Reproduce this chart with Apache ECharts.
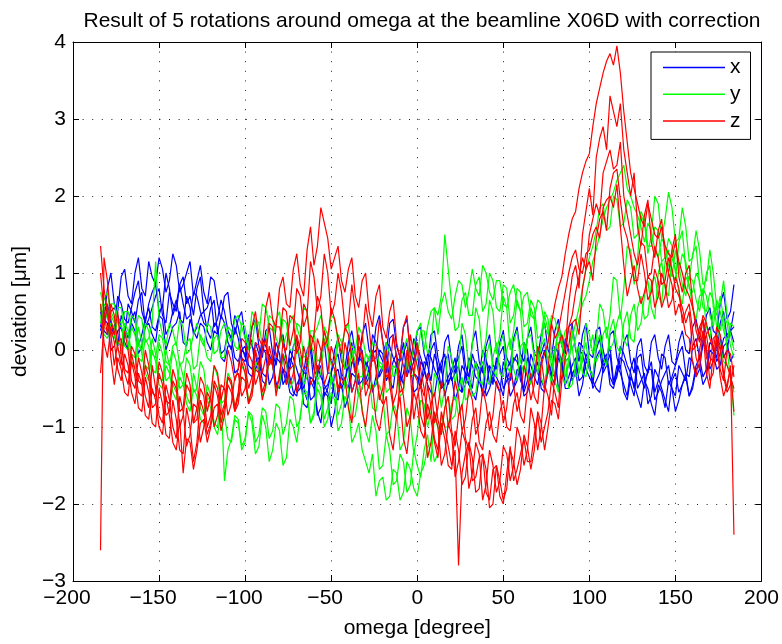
<!DOCTYPE html>
<html><head><meta charset="utf-8">
<script src="https://cdn.jsdelivr.net/npm/echarts@6/dist/echarts.min.js"></script>
<style>html,body{margin:0;padding:0;background:#fff}#c{width:782px;height:644px}</style>
</head><body><div id="c"></div>
<script>
// sample grid A (every 4 deg) and grid B (in between)
const omegaA = [-184,-180,-176,-172,-168,-164,-160,-156,-152,-148,-144,-140,-136,-132,-128,-124,-120,-116,-112,-108,-104,-100,-96,-92,-88,-84,-80,-76,-72,-68,-64,-60,-56,-52,-48,-44,-40,-36,-32,-28,-24,-20,-16,-12,-8,-4,0,4,8,12,16,20,24,28,32,36,40,44,48,52,56,60,64,68,72,76,80,84,88,92,96,100,104,108,112,116,120,124,128,132,136,140,144,148,152,156,160,164,168,172,176,180,184];
const omegaB = [-182,-178,-174,-170,-166,-162,-158,-154,-150,-146,-142,-138,-134,-130,-126,-122,-118,-114,-110,-106,-102,-98,-94,-90,-86,-82,-78,-74,-70,-66,-62,-58,-54,-50,-46,-42,-38,-34,-30,-26,-22,-18,-14,-10,-6,-2,2,6,10,14,18,22,26,30,34,38,42,46,50,54,58,62,66,70,74,78,82,86,90,94,98,102,106,110,114,118,122,126,130,134,138,142,146,150,154,158,162,166,170,174,178,182];

// x deviation, 5 rotations
const x1 = [0.55,0.8,0.6,0.95,0.7,1.0,0.8,1.15,0.85,1.05, 0.9,1.1,0.85,1.15,0.9,0.75,0.95,0.6,0.7,0.35, 0.4,0.15,0.3,0.05,0.25,-0.05,0.1,-0.15,0.05,-0.2, 0.0,-0.25,-0.05,-0.3,0.0,-0.15,0.1,-0.05,0.2,0.0, 0.3,0.1,0.35,0.05,0.3,0.0,0.25,-0.05,0.2,-0.1, 0.1,-0.15,0.05,-0.2,0.1,-0.15,0.05,-0.2,0.1,-0.1, 0.15,-0.05,0.15,-0.05,0.2,0.0,0.25,0.05,0.3,0.0, 0.2,-0.05,0.25,0.0,0.2,-0.1,0.1,-0.15,0.05,-0.2, 0.1,-0.1,0.05,-0.15,0.1,0.0,0.3,0.15,0.45,0.25, 0.6,0.4,0.85];
const x1b = [0.4,1.0,0.5,1.05,0.6,1.2,0.7,0.95,1.2,0.75, 1.25,0.75,1.0,0.7,1.1,0.6,0.9,0.4,0.75,0.2, 0.5,0.0,0.4,-0.1,0.3,-0.2,0.2,-0.25,0.15,-0.3, 0.1,-0.35,0.1,-0.3,0.15,-0.25,0.25,-0.15,0.35,-0.1, 0.45,-0.05,0.4,-0.1,0.4,-0.15,0.3,-0.2,0.25,-0.3, 0.2,-0.3,0.2,-0.35,0.25,-0.3,0.2,-0.25,0.25,-0.2, 0.3,-0.15,0.3,-0.1,0.35,-0.1,0.4,-0.05,0.35,-0.15, 0.35,-0.1,0.3,-0.2,0.25,-0.25,0.2,-0.3,0.15,-0.3, 0.2,-0.25,0.2,-0.2,0.25,-0.05,0.4,0.1,0.55,0.2, 0.75,0.5];
const x2 = [0.3,0.45,0.3,0.6,0.35,0.75,0.5,0.6,0.85,0.55, 0.8,0.6,0.95,0.7,0.8,0.5,0.7,0.4,0.5,0.15, 0.3,-0.1,0.1,-0.15,0.05,-0.2,-0.05,-0.35,-0.1,-0.4, -0.15,-0.45,-0.2,-0.5,-0.15,-0.35,-0.05,-0.3,0.0,-0.25, 0.1,-0.15,0.15,-0.1,0.1,-0.2,0.05,-0.25,0.0,-0.3, -0.05,-0.3,-0.1,-0.35,-0.05,-0.35,-0.1,-0.3,-0.05,-0.35, -0.1,-0.3,0.0,-0.25,-0.05,-0.2,0.05,-0.25,0.0,-0.2, 0.05,-0.25,0.0,-0.2,0.05,-0.3,-0.05,-0.3,-0.1,-0.4, -0.15,-0.4,-0.1,-0.35,-0.05,-0.3,0.05,-0.1,0.2,0.0, 0.35,0.15,0.5];
const x2b = [0.55,0.2,0.7,0.4,0.55,0.9,0.35,0.75,0.5,1.0, 0.45,0.85,0.6,0.45,0.95,0.55,0.3,0.65,0.25,0.45, 0.05,0.2,-0.25,0.15,-0.1,0.1,-0.45,0.0,-0.25,-0.55, 0.0,-0.3,-0.6,-0.3,-0.05,-0.45,0.1,-0.15,-0.4,0.2, -0.05,-0.3,0.2,-0.15,-0.35,0.15,-0.1,-0.4,0.1,-0.15, -0.45,-0.2,0.05,-0.45,-0.2,0.0,-0.45,-0.15,0.05,-0.4, -0.15,0.1,-0.4,-0.1,0.1,-0.35,-0.05,0.15,-0.35,0.1, -0.1,-0.35,0.15,-0.15,-0.4,0.05,-0.2,-0.5,-0.05,-0.3, -0.55,-0.05,-0.45,-0.2,0.05,-0.35,0.15,0.05,0.3,-0.1, 0.5,0.25];
const x3 = [0.5,0.2,0.55,0.3,0.6,0.35,0.75,0.4,0.7,0.45, 0.75,0.5,0.6,0.45,0.7,0.35,0.55,0.2,0.35,0.0, 0.15,-0.15,0.05,-0.3,-0.05,-0.35,-0.15,-0.45,-0.2,-0.5, -0.3,-0.6,-0.35,-0.55,-0.3,-0.5,-0.2,-0.4,-0.15,-0.35, 0.0,-0.25,0.05,-0.2,-0.05,-0.3,0.0,-0.3,-0.1,-0.35, -0.15,-0.4,-0.2,-0.45,-0.2,-0.4,-0.15,-0.45,-0.2,-0.4, -0.15,-0.4,-0.1,-0.35,-0.15,-0.3,-0.05,-0.35,-0.1,-0.3, -0.05,-0.35,-0.1,-0.3,-0.05,-0.35,-0.15,-0.45,-0.2,-0.5, -0.25,-0.55,-0.3,-0.5,-0.2,-0.4,-0.15,-0.25,0.0,-0.15, 0.15,0.0,0.3];
const x3b = [0.25,0.5,0.45,0.15,0.5,0.65,0.3,0.55,0.8,0.35, 0.6,0.85,0.4,0.75,0.5,0.3,0.65,0.45,0.1,0.3, -0.1,0.15,-0.05,0.05,-0.45,-0.1,-0.25,-0.1,-0.55,-0.3, -0.65,-0.2,-0.45,-0.7,-0.25,-0.4,-0.55,-0.1,-0.45,-0.05, -0.35,0.1,-0.1,-0.4,0.1,-0.15,-0.45,-0.05,-0.25,-0.5, -0.05,-0.3,-0.55,-0.1,-0.35,-0.55,-0.25,-0.1,-0.5,-0.25, -0.05,-0.5,-0.2,-0.45,0.0,-0.2,-0.5,-0.15,-0.4,0.0, -0.25,-0.45,0.0,-0.2,-0.45,-0.1,-0.3,-0.6,-0.35,-0.25, -0.65,-0.4,-0.2,-0.6,-0.3,-0.1,-0.35,0.1,-0.25,0.05, -0.1,0.25];
const x4 = [0.25,0.6,0.2,0.45,0.15,0.5,0.2,0.55,0.25,0.6, 0.3,0.65,0.35,0.55,0.3,0.5,0.15,0.3,0.0,0.15, -0.15,0.05,-0.25,-0.05,-0.35,-0.1,-0.4,-0.2,-0.55,-0.3, -0.65,-0.4,-0.75,-0.45,-0.6,-0.3,-0.5,-0.2,-0.4,-0.1, -0.35,-0.05,-0.3,-0.05,-0.3,-0.1,-0.35,-0.15,-0.4,-0.2, -0.45,-0.25,-0.5,-0.3,-0.5,-0.25,-0.5,-0.3,-0.45,-0.25, -0.5,-0.2,-0.4,-0.2,-0.4,-0.15,-0.35,-0.15,-0.35,-0.1, -0.35,-0.15,-0.4,-0.15,-0.35,-0.2,-0.45,-0.25,-0.5,-0.3, -0.6,-0.35,-0.65,-0.4,-0.55,-0.3,-0.45,-0.1,-0.25,0.05, -0.05,0.2,0.1];
const x4b = [0.45,0.35,0.05,0.3,0.4,0.05,0.4,0.3,0.45,0.2, 0.5,0.4,0.7,0.2,0.45,0.25,0.35,-0.05,0.25,-0.1, 0.0,-0.2,0.1,-0.3,-0.15,-0.45,-0.05,-0.35,-0.6,-0.5, -0.35,-0.85,-0.5,-0.3,-0.65,-0.4,-0.15,-0.45,-0.25,-0.55, 0.0,-0.4,-0.15,-0.45,-0.05,-0.3,-0.5,-0.2,-0.05,-0.5, -0.35,-0.1,-0.55,-0.35,-0.15,-0.6,-0.2,-0.35,-0.6,-0.15, -0.4,-0.55,-0.05,-0.3,-0.5,-0.3,0.0,-0.45,-0.2,-0.4, -0.05,-0.5,-0.3,-0.05,-0.45,-0.3,-0.6,-0.1,-0.4,-0.7, -0.25,-0.5,-0.8,-0.3,-0.45,-0.6,-0.2,-0.35,0.1,-0.15, 0.15,0.25];
const x5 = [0.15,0.35,0.05,0.3,0.0,0.25,0.05,0.35,0.1,0.4, 0.15,0.35,0.1,0.4,0.15,0.3,0.0,0.2,-0.15,0.05, -0.25,-0.05,-0.35,-0.1,-0.45,-0.2,-0.5,-0.3,-0.6,-0.35, -0.75,-0.5,-0.95,-0.6,-0.8,-0.45,-0.6,-0.35,-0.5,-0.25, -0.45,-0.2,-0.4,-0.15,-0.45,-0.2,-0.5,-0.25,-0.55,-0.3, -0.6,-0.35,-0.5,-0.3,-0.55,-0.35,-0.6,-0.35,-0.55,-0.3, -0.5,-0.3,-0.55,-0.3,-0.5,-0.25,-0.45,-0.2,-0.5,-0.25, -0.45,-0.2,-0.5,-0.25,-0.45,-0.3,-0.55,-0.35,-0.6,-0.4, -0.7,-0.45,-0.75,-0.5,-0.65,-0.35,-0.5,-0.2,-0.35,-0.05, -0.2,0.1,-0.05];
const x5b = [0.4,0.0,0.25,0.1,0.35,-0.05,0.3,0.2,0.45,0.0, 0.3,0.5,0.05,0.25,0.35,0.1,0.25,-0.1,0.05,-0.3, 0.0,-0.3,-0.15,-0.4,-0.05,-0.45,-0.25,-0.55,-0.45,-0.7, -0.4,-0.8,-0.55,-1.0,-0.5,-0.75,-0.3,-0.6,-0.15,-0.5, -0.3,-0.05,-0.5,-0.3,-0.1,-0.55,-0.15,-0.45,-0.6,-0.2, -0.4,-0.65,-0.2,-0.45,-0.65,-0.2,-0.5,-0.45,-0.15,-0.6, -0.25,-0.6,-0.4,-0.15,-0.55,-0.35,-0.1,-0.5,-0.3,-0.6, -0.15,-0.4,-0.55,-0.1,-0.5,-0.2,-0.65,-0.45,-0.75,-0.5, -0.85,-0.55,-0.4,-0.8,-0.45,-0.6,-0.25,-0.45,0.0,-0.25, 0.05,-0.15];

// y deviation
const y1 = [0.75,0.4,0.6,0.3,0.5,0.2,0.4,0.15,1.15,0.2, 0.35,0.05,0.3,0.0,0.35,0.05,0.3,0.0,0.35,0.1, 0.45,0.15,0.5,0.2,0.55,0.25,0.5,0.2,0.45,0.15, 0.5,0.2,0.45,0.1,0.4,0.05,0.35,0.0,0.2,-0.15, 0.05,-0.25,-0.05,-0.3,0.0,-0.2,0.25,0.0,0.5,0.2, 0.75,0.4,0.9,0.55,1.05,0.7,1.0,0.65,0.9,0.55, 0.85,0.5,0.75,0.4,0.6,0.2,0.4,0.05,0.3,0.15, 0.6,0.9,1.3,1.7,1.95,2.2,2.4,2.0,1.75,1.4, 1.55,1.2,1.35,0.95,1.1,0.7,0.9,0.5,0.7,0.3, 0.5,0.1,0.3];
const y1b = [0.55,0.6,0.35,0.5,0.3,0.45,0.1,0.35,0.4,0.05, 0.25,0.4,-0.05,0.2,0.15,0.35,-0.05,0.25,0.2,0.4, 0.3,0.05,0.4,0.6,0.3,0.4,0.05,0.35,0.3,0.55, 0.1,0.3,0.25,0.45,0.1,0.25,-0.1,0.3,-0.05,0.1, -0.2,0.1,-0.35,-0.1,0.15,0.05,0.35,0.3,0.55,0.6, 0.5,0.7,0.85,0.75,0.8,1.1,0.75,0.9,0.6,0.75, 0.6,0.7,0.45,0.65,0.3,0.45,0.2,0.25,0.0,0.4, 0.7,1.15,1.5,1.85,2.05,2.3,2.1,1.85,1.6,1.65, 1.3,1.45,1.1,1.3,0.85,0.95,0.65,0.8,0.45,0.65, 0.25,0.35];
const y2 = [0.5,0.75,0.35,0.55,0.2,0.4,0.0,0.25,-0.1,0.15, -0.2,0.1,-0.15,0.15,-0.2,0.1,-0.15,0.2,-0.1,0.25, 0.0,0.3,0.05,0.35,0.1,0.4,0.05,0.35,0.0,0.3, -0.05,0.25,-0.1,0.2,-0.15,0.1,-0.2,0.0,-0.35,-0.1, -0.45,-0.2,-0.5,-0.25,-0.55,-0.3,-0.1,0.25,0.05,0.45, 1.5,0.6,0.3,0.75,0.45,0.95,0.6,0.9,0.5,0.8, 0.45,0.75,0.35,0.55,0.2,0.4,0.0,0.2,-0.1,0.35, 0.8,1.2,1.55,1.9,1.6,1.95,1.65,1.85,1.5,1.7, 1.35,1.55,1.2,1.35,1.0,1.15,0.75,0.9,0.5,0.65, 0.25,0.35,-0.1];
const y2b = [0.65,0.45,0.55,0.25,0.45,0.05,0.35,-0.05,0.2,-0.15, 0.05,-0.2,0.1,-0.25,0.2,-0.1,0.15,-0.1,0.3,0.05, 0.35,0.0,0.4,0.05,0.45,0.15,0.4,0.0,0.35,-0.1, 0.25,-0.15,0.3,-0.2,0.2,-0.25,0.05,-0.35,-0.05,-0.5, -0.15,-0.55,-0.2,-0.6,-0.1,-0.35,0.25,-0.05,0.55,0.7, 1.05,0.25,0.65,0.45,0.85,0.5,1.0,0.55,0.85,0.35, 0.8,0.3,0.65,0.15,0.5,0.0,0.3,-0.15,0.15,0.55, 1.05,1.35,1.85,1.55,2.0,1.6,1.95,1.45,1.8,1.35, 1.6,1.15,1.45,1.0,1.25,0.8,1.0,0.55,0.75,0.3, 0.45,0.05];
const y3 = [0.35,0.55,0.15,0.35,0.0,0.2,-0.15,0.05,-0.3,-0.05, -0.35,-0.15,-0.45,-0.2,-0.5,-0.25,-0.6,-0.35,-0.65,-0.4, -0.6,-0.3,-0.55,-0.25,-0.5,-0.2,-0.45,-0.15,-0.4,-0.1, -0.35,-0.05,-0.3,0.0,-0.3,-0.05,-0.35,-0.15,-0.5,-0.35, -0.8,-0.6,-1.05,-0.8,-1.2,-0.9,-1.1,-0.7,-0.8,-0.4, -0.5,-0.1,-0.2,0.2,0.05,0.4,0.15,0.5,0.2,0.55, 0.25,0.5,0.15,0.4,0.05,0.25,-0.1,0.1,-0.2,0.05, -0.15,0.2,0.1,0.5,0.45,0.9,0.8,1.3,1.2,1.65, 1.5,1.9,1.7,1.85,1.45,1.6,1.2,1.3,0.9,1.0, 0.6,0.45,0.0];
const y3b = [0.6,0.2,0.4,0.05,0.3,-0.1,0.15,-0.25,0.1,-0.4, 0.0,-0.5,-0.1,-0.55,-0.15,-0.65,-0.2,-0.7,-0.3,-0.75, -0.2,-0.65,-0.15,-0.6,-0.1,-0.55,-0.05,-0.5,0.05,-0.45, 0.1,-0.4,0.15,-0.45,0.1,-0.5,0.0,-0.6,-0.2,-0.75, -0.45,-1.1,-0.7,-1.3,-0.75,-1.35,-0.65,-1.0,-0.3,-0.75, 0.05,-0.45,0.35,-0.25,0.55,-0.1,0.65,-0.05,0.7,0.0, 0.65,-0.05,0.55,-0.15,0.45,-0.25,0.3,-0.35,0.25,-0.3, 0.35,-0.05,0.6,0.15,0.95,0.4,1.35,0.85,1.75,1.25, 2.0,1.45,2.05,1.4,1.85,1.15,1.55,0.85,1.3,0.55, 0.9,0.2];
const y4 = [0.6,0.25,0.4,0.05,0.25,-0.1,0.1,-0.25,-0.05,-0.4, -0.2,-0.55,-0.35,-0.7,-0.5,-0.85,-0.6,-1.0,-1.7,-1.15, -0.9,-1.2,-0.95,-1.25,-1.0,-1.3,-1.05,-1.4,-1.0,-0.85, -0.6,-0.8,-0.5,-0.75,-0.45,-0.7,-0.5,-0.85,-0.75,-1.2, -1.05,-1.5,-1.3,-1.7,-1.45,-1.75,-1.5,-1.3,-1.45,-1.0, -0.75,-0.9,-0.5,-0.65,-0.3,-0.4,-0.1,-0.25,0.05,-0.2, 0.1,-0.15,0.15,-0.1,0.05,-0.2,0.0,-0.3,-0.1,-0.35, -0.05,-0.25,0.05,-0.1,0.25,0.05,0.35,0.15,0.55,0.4, 0.85,0.7,1.15,1.0,1.4,1.05,1.25,0.85,1.0,0.55, 0.7,0.0,-0.55];
const y4b = [0.3,0.5,0.1,0.35,-0.05,0.3,-0.2,0.15,-0.35,0.0, -0.45,-0.15,-0.6,-0.3,-0.75,-0.45,-0.95,-0.55,-1.3,-0.85, -1.3,-0.8,-1.35,-0.85,-1.45,-0.95,-1.5,-0.9,-1.2,-0.55, -0.95,-0.4,-0.9,-0.35,-0.85,-0.4,-0.9,-0.55,-1.05,-0.85, -1.55,-1.1,-1.75,-1.35,-1.85,-1.3,-1.65,-1.1,-0.85,-1.1, -0.6,-0.85,-0.35,-0.6,-0.15,-0.45,0.1,-0.35,0.2,-0.3, 0.25,-0.3,0.2,-0.3,0.15,-0.45,0.1,-0.45,0.05,-0.3, 0.1,-0.35,0.2,-0.2,0.4,-0.05,0.5,0.1,0.7,0.45, 0.95,0.6,1.3,0.9,1.55,0.9,1.35,0.7,1.1,0.45, 0.4,-0.35];
const y5 = [0.45,0.15,0.3,-0.05,0.1,-0.25,-0.05,-0.4,-0.15,-0.5, -0.3,-0.65,-0.45,-0.8,-0.6,-0.95,-0.75,-1.1,-0.85,-1.2, -0.95,-1.15,-0.85,-1.1,-0.8,-1.05,-0.75,-0.95,-0.65,-0.9, -0.55,-0.85,-0.6,-0.9,-0.65,-0.95,-0.7,-1.1,-1.3,-1.6, -1.9,-1.65,-1.9,-1.6,-1.85,-1.55,-1.9,-1.5,-1.2,-1.35, -1.0,-0.7,-0.85,-0.45,-0.6,-0.25,-0.4,-0.1,-0.3,0.0, -0.25,0.05,-0.3,-0.05,-0.35,-0.1,-0.4,-0.15,-0.5,-0.2, -0.3,0.0,-0.15,0.2,0.0,0.35,0.15,0.45,0.25,0.7, 0.55,1.0,0.8,1.2,0.75,0.95,0.55,0.7,0.3,0.5, 0.05,-0.2,-0.85];
const y5b = [0.2,0.35,0.0,0.25,-0.15,0.15,-0.3,0.0,-0.45,-0.2, -0.55,-0.35,-0.7,-0.5,-0.9,-0.65,-1.0,-0.8,-1.15,-0.9, -1.25,-0.8,-1.2,-0.75,-1.15,-0.7,-1.1,-0.6,-1.0,-0.5, -0.95,-0.5,-1.0,-0.55,-1.05,-0.6,-1.2,-0.95,-1.45,-1.35, -1.7,-1.95,-1.55,-1.95,-1.45,-1.8,-1.6,-1.25,-1.45,-0.85, -1.0,-0.6,-0.75,-0.35,-0.55,-0.15,-0.45,0.1,-0.35,0.15, -0.4,0.1,-0.45,0.0,-0.5,-0.05,-0.55,-0.1,-0.45,0.05, -0.35,0.2,-0.05,0.3,0.1,0.5,0.05,0.6,0.35,0.9, 0.4,1.15,0.7,1.05,0.6,0.85,0.4,0.75,0.15,0.55, -0.15,-0.3];

// z deviation
const z1 = [-2.6,0.9,0.2,-0.1,-0.45,-0.25,-0.6,-0.35,-0.7,-0.45, -0.8,-0.5,-0.85,-0.55,-0.75,-0.45,-0.6,-0.3,-0.45,-0.15, -0.25,0.1,0.3,0.15,0.55,0.4,0.8,0.6,1.05,0.85, 1.3,1.1,1.85,1.45,1.2,0.9,1.05,0.7,0.9,0.5, 0.7,0.3,0.5,0.1,0.3,-0.1,0.1,-0.5,-0.7,-0.9, -0.75,-1.05,-0.85,-1.15,-0.9,-1.2,-0.95,-1.1,-0.8,-1.0, -0.7,-0.85,-0.5,-0.6,-0.2,0.1,0.6,0.95,1.5,1.8, 2.3,2.55,3.2,3.6,3.85,3.95,3.1,2.3,1.9,1.6, 1.7,1.45,1.35,1.2,1.15,0.8,0.55,0.2,0.35,0.0, 0.2,-0.2,-0.5];
const z1b = [1.2,0.4,0.5,-0.3,-0.05,-0.55,-0.2,-0.75,-0.3,-0.85, -0.4,-1.0,-0.45,-0.95,-0.35,-0.8,-0.2,-0.65,0.0,-0.4, 0.15,-0.1,0.5,0.05,0.75,0.3,0.95,0.55,1.25,0.7, 1.6,1.35,1.65,1.05,1.35,0.75,1.2,0.55,1.0,0.3, 0.85,0.15,0.65,-0.1,0.45,-0.3,-0.25,-0.9,-0.55,-1.1, -0.6,-1.25,-0.7,-1.3,-0.75,-1.3,-0.8,-1.2,-0.65,-1.05, -0.55,-0.95,-0.3,-0.7,-0.05,0.35,0.8,1.25,1.7,2.1, 2.45,2.9,3.4,3.75,3.7,3.6,2.7,2.1,1.7,1.9, 1.5,1.6,1.25,1.4,1.0,0.7,0.35,0.45,0.15,0.3, -0.05,-0.35];
const z2 = [1.35,0.5,-0.2,0.15,-0.3,-0.05,-0.45,-0.2,-0.6,-0.3, -0.7,-0.4,-0.75,-0.45,-0.9,-0.6,-0.85,-0.5,-0.7,-0.4, -0.55,-0.2,-0.35,0.05,-0.1,0.3,0.1,0.5,0.25,0.7, 0.45,0.95,0.7,1.0,0.6,0.75,0.35,0.5,0.1,0.3, -0.1,0.1,-0.3,-0.1,-0.5,-0.3,-0.6,-0.85,-1.2,-1.0, -1.35,-1.1,-1.45,-1.2,-1.6,-1.35,-1.75,-1.5,-1.7,-1.35, -1.5,-1.15,-1.3,-0.95,-1.0,-0.6,-0.3,0.2,0.6,1.1, 1.5,2.1,2.5,2.9,3.3,2.9,2.6,2.0,1.6,1.75, 1.4,1.55,1.2,1.3,0.95,1.0,0.6,0.1,0.2,-0.15, 0.05,-0.5,-2.4];
const z2b = [0.8,0.2,0.1,-0.25,0.05,-0.4,0.0,-0.55,-0.15,-0.65, -0.25,-0.8,-0.3,-0.95,-0.5,-1.0,-0.4,-0.85,-0.35,-0.75, -0.1,-0.5,0.1,-0.3,0.35,-0.1,0.55,0.05,0.8,0.3, 1.15,0.5,1.25,0.45,1.0,0.3,0.85,0.0,0.6,-0.15, 0.4,-0.35,0.2,-0.55,0.0,-0.9,-0.45,-1.4,-0.8,-1.5, -0.95,-1.65,-1.05,-1.8,-1.2,-1.95,-1.3,-1.85,-1.25,-1.7, -1.0,-1.5,-0.75,-1.3,-0.45,-0.85,0.05,0.0,0.95,0.8, 1.8,1.75,2.75,2.6,3.1,3.2,2.3,2.3,1.35,1.95, 1.2,1.7,1.0,1.5,0.75,1.1,0.25,0.4,-0.1,0.2, -0.3,-0.2];
const z3 = [1.0,0.2,0.45,-0.2,0.0,-0.5,-0.3,-0.75,-0.5,-0.95, -0.65,-1.15,-0.8,-1.1,-0.75,-1.0,-0.65,-0.85,-0.5,-0.7, -0.3,-0.5,-0.15,-0.3,0.15,-0.1,0.3,0.0,0.4,0.1, 0.5,0.2,0.55,0.15,0.4,-0.05,0.2,-0.3,-0.05,-0.5, -0.25,-0.7,-0.45,-0.9,-0.6,-0.85,-0.4,-1.0,-0.75,-1.3, -1.0,-1.5,-2.8,-1.35,-1.7,-1.4,-1.85,-1.55,-1.9,-1.6, -1.7,-1.35,-1.45,-1.1,-1.2,-0.8,-0.55,-0.1,0.3,0.75, 1.2,1.5,1.9,2.3,2.6,2.4,2.0,1.5,1.1,1.35, 1.0,1.2,0.9,1.05,0.7,0.35,0.0,0.3,-0.1,0.15, -0.25,0.0,-0.35];
const z3b = [0.5,0.6,0.05,0.25,-0.4,-0.1,-0.6,-0.2,-0.85,-0.45, -1.0,-0.6,-1.25,-0.7,-1.2,-0.55,-1.0,-0.45,-0.85,-0.35, -0.6,-0.05,-0.45,0.0,-0.2,0.3,0.05,0.45,-0.05,0.6, 0.0,0.7,0.05,0.55,0.15,0.3,-0.1,0.2,-0.4,0.0, -0.6,-0.15,-0.75,-0.4,-1.0,-0.3,-0.85,-0.45,-1.15,-0.8, -1.25,-1.3,-1.6,-1.2,-1.65,-1.35,-1.95,-1.5,-2.0,-1.25, -1.55,-1.15,-1.45,-0.85,-1.0,-0.4,-0.75,0.05,0.45,0.95, 1.05,1.7,1.75,2.45,2.35,2.7,1.75,1.25,1.4,0.95, 1.35,0.85,1.2,0.8,0.55,0.5,0.05,0.4,-0.2,0.2, -0.4,-0.05];
const z4 = [0.6,-0.1,0.1,-0.4,-0.2,-0.7,-0.45,-0.9,-0.65,-1.1, -0.85,-1.3,-1.6,-1.2,-1.3,-0.9,-1.0,-0.7,-0.85,-0.55, -0.7,-0.4,-0.6,-0.3,-0.45,-0.2,-0.35,-0.1,-0.3,0.0, -0.2,0.1,-0.1,0.05,-0.25,-0.45,-0.75,-0.55,-0.8,-0.6, -0.9,-0.75,-1.1,-0.85,-1.15,-0.9,-0.7,-1.15,-0.9,-1.4, -1.15,-1.55,-1.3,-1.65,-1.4,-1.8,-1.55,-2.0,-1.7,-1.8, -1.45,-1.55,-1.25,-1.3,-0.95,-1.0,-0.7,-0.4,0.05,0.4, 0.8,1.15,1.45,1.8,2.1,2.35,1.6,1.2,0.9,1.0, 0.75,0.9,0.7,0.85,0.6,0.2,-0.15,0.0,-0.3,-0.05, -0.35,-0.45,-0.8];
const z4b = [0.1,0.3,-0.25,-0.05,-0.55,-0.3,-0.85,-0.5,-1.0,-0.6, -1.2,-0.9,-1.15,-1.55,-0.95,-1.2,-0.75,-1.05,-0.45,-0.8, -0.35,-0.7,-0.25,-0.65,-0.1,-0.5,0.1,-0.45,0.2,-0.25, 0.2,-0.3,0.25,-0.15,-0.55,-0.35,-0.95,-0.3,-1.0,-0.45, -1.05,-0.6,-1.3,-0.6,-1.35,-0.55,-1.05,-0.7,-1.2,-0.95, -1.5,-1.05,-1.75,-1.2,-1.85,-1.35,-2.05,-1.5,-1.95,-1.3, -1.75,-1.1,-1.55,-0.8,-1.3,-0.65,-0.9,-0.1,0.35,0.2, 1.05,0.9,1.7,1.55,2.3,1.95,1.45,0.9,1.25,0.65, 1.05,0.55,1.0,0.45,0.45,0.15,-0.35,0.25,-0.5,0.1, -0.6,-0.25];
const z5 = [-0.3,0.6,-0.45,-0.25,-0.6,-0.35,-0.8,-0.55,-1.0,-0.7, -1.15,-0.9,-1.35,-1.0,-1.2,-0.8,-0.95,-0.6,-0.75,-0.45, -0.6,-0.3,-0.5,-0.2,-0.4,-0.15,-0.3,-0.45,-0.2,-0.4, -0.15,-0.35,0.0,-0.3,-0.1,-0.35,-0.1,-0.4,-0.15,-0.45, -0.2,-0.5,-0.25,-0.55,-0.2,0.2,-0.2,-0.6,-0.45,-0.75, -0.55,-0.8,-0.6,-0.9,-0.65,-0.95,-0.7,-0.85,-0.55,-0.75, -0.45,-0.6,-0.35,-0.45,-0.1,-0.3,0.15,0.5,1.0,1.3, 1.0,1.3,1.6,1.85,2.0,2.15,1.1,0.9,0.8,0.75, 0.9,0.7,0.85,0.65,0.8,0.5,0.25,-0.25,0.05,-0.3, 0.0,-0.55,-0.2];
const z5b = [0.3,-0.1,-0.1,-0.55,-0.15,-0.75,-0.35,-0.95,-0.5,-1.1, -0.65,-1.3,-0.75,-1.45,-0.65,-1.1,-0.45,-0.95,-0.35,-0.8, -0.15,-0.7,0.0,-0.55,0.05,-0.6,-0.05,-0.25,-0.55,0.05, -0.45,0.15,-0.45,0.05,-0.5,0.1,-0.55,0.05,-0.6,0.0, -0.65,0.0,-0.7,-0.05,-0.35,-0.05,-0.45,-0.3,-0.95,-0.4, -1.0,-0.4,-1.05,-0.5,-1.1,-0.5,-1.05,-0.4,-0.95,-0.3, -0.8,-0.2,-0.65,0.05,-0.45,0.35,0.25,0.75,1.2,1.05, 1.25,1.5,1.45,1.95,1.85,1.6,0.7,1.1,0.6,0.95, 0.55,1.0,0.55,0.95,0.35,0.6,-0.1,0.25,-0.4,0.15, -0.35,-0.45];

const xTicks = [-200,-150,-100,-50,0,50,100,150,200];
const yTicks = [-3,-2,-1,0,1,2,3,4];

const groups = [
  {name:'x', color:'#0000ff', lines:[[x1,x1b],[x2,x2b],[x3,x3b],[x4,x4b],[x5,x5b]]},
  {name:'y', color:'#00ff00', lines:[[y1,y1b],[y2,y2b],[y3,y3b],[y4,y4b],[y5,y5b]]},
  {name:'z', color:'#ff0000', lines:[[z1,z1b],[z2,z2b],[z3,z3b],[z4,z4b],[z5,z5b]]}
];

const FONT = "'Liberation Sans', Arial, Helvetica, sans-serif";
const fmtY = v => (v < 0 ? '\u2212' + Math.abs(v) : String(v));
const fmtX = v => (v < 0 ? '{n|\u2212' + Math.abs(v) + '}' : String(v));

function merge(a, b) {
  const out = [];
  for (let i = 0; i < omegaA.length; i++) {
    out.push([omegaA[i], a[i]]);
    if (i < omegaB.length) out.push([omegaB[i], b[i]]);
  }
  return out;
}

const series = [];
groups.forEach(g => {
  g.lines.forEach(pair => {
    series.push({
      name: g.name, type: 'line', xAxisIndex: 0, yAxisIndex: 0,
      data: merge(pair[0], pair[1]),
      showSymbol: false, symbol: 'none',
      lineStyle: {color: g.color, width: 1.2},
      itemStyle: {color: g.color},
      emphasis: {disabled: true}, silent: true, animation: false
    });
  });
});

const gridLine = {show: true, lineStyle: {color: '#222', width: 1, type: [1, 8.6]}};
const axLine = {show: true, onZero: false, lineStyle: {color: '#000', width: 1}};
const tick = {show: true, inside: true, length: 6, lineStyle: {color: '#000', width: 1}};
const FS = 21;

const chart = echarts.init(document.getElementById('c'), null, {renderer: 'canvas'});
chart.setOption({
  animation: false,
  backgroundColor: '#fff',
  textStyle: {fontFamily: FONT},
  title: {
    text: 'Result of 5 rotations around omega at the beamline X06D with correction',
    left: 417, top: 6, textAlign: 'center',
    textStyle: {fontSize: 21, fontWeight: 'normal', color: '#000', fontFamily: FONT}
  },
  legend: {
    data: ['x', 'y', 'z'], orient: 'vertical', left: 651, top: 52,
    itemWidth: 62, itemHeight: 1.5, icon: 'rect', itemGap: 5.7, itemTextGap: 8,
    padding: [5, 10, 8, 12],
    borderColor: '#000', borderWidth: 1, backgroundColor: '#fff',
    textStyle: {fontSize: FS, color: '#000', fontFamily: FONT, lineHeight: 21},
    selectedMode: false
  },
  grid: {left: 73, right: 20, top: 42, bottom: 61, containLabel: false},
  xAxis: [
    {type: 'value', min: xTicks[0], max: xTicks[xTicks.length-1], interval: 50, position: 'bottom',
     axisLine: axLine, axisTick: tick, splitLine: gridLine,
     axisLabel: {fontSize: FS, color: '#000', margin: 7, formatter: fmtX, showMinLabel: true, showMaxLabel: true, fontFamily: FONT,
                 rich: {n: {fontSize: FS, color: '#000', fontFamily: FONT, padding: [0, 12, 0, 0]}}},
     name: 'omega [degree]', nameLocation: 'middle', nameGap: 37,
     nameTextStyle: {fontSize: FS, color: '#000', fontFamily: FONT}},
    {type: 'value', min: xTicks[0], max: xTicks[xTicks.length-1], interval: 50, position: 'top',
     axisLine: axLine, axisTick: tick, splitLine: {show: false}, axisLabel: {show: false}}
  ],
  yAxis: [
    {type: 'value', min: yTicks[0], max: yTicks[yTicks.length-1], interval: 1, position: 'left',
     axisLine: axLine, axisTick: tick, splitLine: gridLine,
     axisLabel: {fontSize: FS, color: '#000', margin: 7, formatter: fmtY, showMinLabel: true, showMaxLabel: true, fontFamily: FONT},
     name: 'deviation [\u03bcm]', nameLocation: 'middle', nameGap: 40, nameRotate: 90,
     nameTextStyle: {fontSize: FS, color: '#000', fontFamily: FONT}},
    {type: 'value', min: yTicks[0], max: yTicks[yTicks.length-1], interval: 1, position: 'right',
     axisLine: axLine, axisTick: tick, splitLine: {show: false}, axisLabel: {show: false}}
  ],
  series: series
});
</script>
</body></html>
